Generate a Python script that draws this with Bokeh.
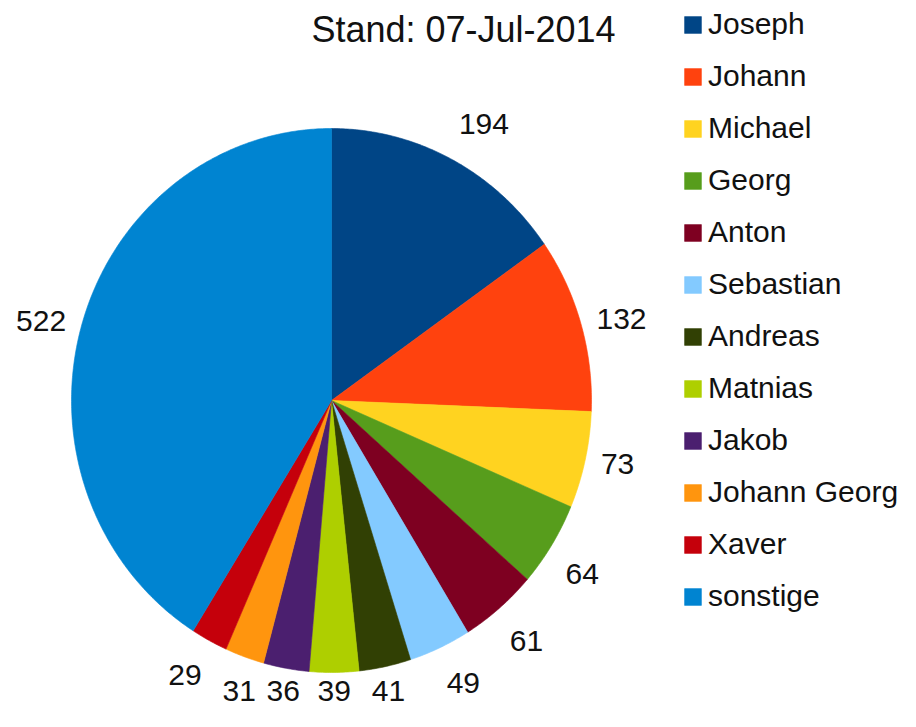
import math
from bokeh.plotting import figure
from bokeh.models import Range1d, Legend, LegendItem, ColumnDataSource, Label
from bokeh.embed import file_html
from bokeh.resources import INLINE
from bokeh.core.properties import value

# ---- data ----
names = ["Joseph", "Johann", "Michael", "Georg", "Anton", "Sebastian",
         "Andreas", "Matnias", "Jakob", "Johann Georg", "Xaver", "sonstige"]
counts = [194, 132, 73, 64, 61, 49, 41, 39, 36, 31, 29, 522]
colors = ["#004586", "#ff420e", "#ffd320", "#579d1c", "#7e0021", "#83caff",
          "#314004", "#aecf00", "#4b1f6f", "#ff950e", "#c5000b", "#0084d1"]
title_text = "Stand: 07-Jul-2014"

# ---- layout constants (pixels) ----
W, H = 900, 711
CX, CY = 331, 400          # pie centre inside the figure
RX, RY = 260, 272          # pixels per unit radius
FONT = "Liberation Sans"
TXT = "#111111"
LAB_FS = 30
R_LAB = 1.062              # label anchor radius (unit circle)
V_PAD = 10                 # extra vertical gap (px) for labels above/below
x0 = -CX / RX
x1 = (W - CX) / RX
y1 = CY / RY
y0 = -(H - CY) / RY
y_min_anchor = y0 + 31 / RY   # keep bottom labels inside the figure

p = figure(width=W, height=H, x_range=Range1d(x0, x1), y_range=Range1d(y0, y1),
           output_backend="svg", toolbar_location=None, min_border=0,
           tools="")
p.axis.visible = False
p.grid.visible = False
p.outline_line_color = None
p.background_fill_color = "white"


def placement(phi):
    """LibreOffice-like outside label alignment from math angle (deg)."""
    phi = phi % 360.0
    if phi <= 22.5 or phi >= 337.5:
        return "left", "middle"
    if phi < 67.5:
        return "left", "bottom"
    if phi < 112.5:
        return "center", "bottom"
    if phi <= 157.5:
        return "right", "bottom"
    if phi <= 202.5:
        return "right", "middle"
    if phi < 247.5:
        return "right", "top"
    if phi < 292.5:
        return "center", "top"
    return "left", "top"


total = float(sum(counts))
xs, ys = [], []
lx, ly, ltxt, lal, lbl = [], [], [], [], []
start = 0.0
for v in counts:
    a0 = start / total * 2 * math.pi
    a1 = (start + v) / total * 2 * math.pi
    n = max(4, int((a1 - a0) / (math.pi / 360)))
    px = [0.0]
    py = [0.0]
    for i in range(n + 1):
        a = a0 + (a1 - a0) * i / n
        px.append(math.sin(a))
        py.append(math.cos(a))
    xs.append(px)
    ys.append(py)
    am = (a0 + a1) / 2
    s, c = math.sin(am), math.cos(am)
    al, bl = placement(90.0 - math.degrees(am))
    yy = R_LAB * c
    if bl == "top":
        yy -= V_PAD / RY
    elif bl == "bottom":
        yy += V_PAD / RY
    lx.append(R_LAB * s)
    ly.append(max(yy, y_min_anchor))
    ltxt.append(str(v))
    lal.append(al)
    lbl.append(bl)
    start += v

src = ColumnDataSource(dict(xs=xs, ys=ys, color=colors, name=names))
rend = p.patches("xs", "ys", source=src, fill_color="color", line_color="color",
                 line_width=0.6)

lsrc = ColumnDataSource(dict(x=lx, y=ly, t=ltxt, al=lal, bl=lbl))
p.text("x", "y", text="t", source=lsrc, text_align="al",
       text_baseline="bl", text_font=value(FONT),
       text_font_size=f"{LAB_FS}px", text_color=TXT)

items = [LegendItem(label=nm, renderers=[rend], index=i) for i, nm in enumerate(names)]
legend = Legend(items=items, location=(682, 98), padding=0, margin=0,
                spacing=18, label_standoff=5, glyph_width=21, glyph_height=21,
                label_text_font=FONT, label_text_font_size="30px",
                label_text_color=TXT, border_line_color=None,
                background_fill_alpha=0)
p.add_layout(legend, "center")

p.add_layout(Label(x=463, y=H - 8, x_units="screen", y_units="screen",
                   text=title_text, text_align="center", text_baseline="top",
                   text_font=FONT, text_font_size="36px", text_color=TXT))

open("out.html", "w").write(file_html(p, INLINE))
